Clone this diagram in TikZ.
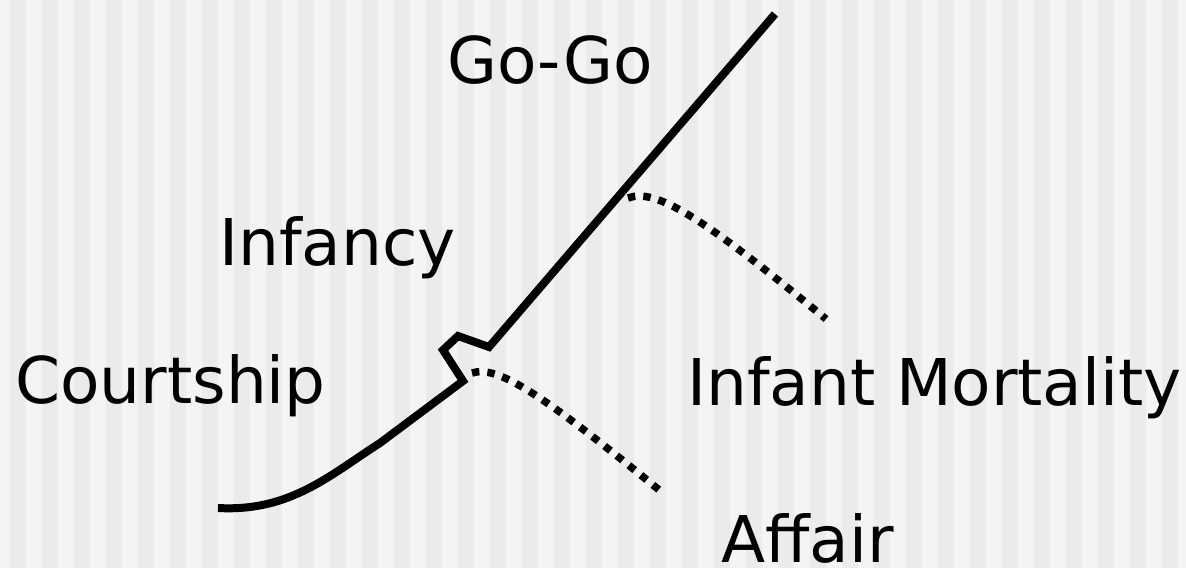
\documentclass[tikz,border=0pt]{standalone}
\usepackage{fontspec}
\setmainfont{DejaVu Sans}
\definecolor{stripelight}{HTML}{F4F4F4}
\definecolor{stripedark}{HTML}{EBEBEB}
\tikzset{
  lifeline/.style={line width=0.16cm,line join=miter},
  dotline/.style={line width=0.15cm,dash pattern=on 0.15cm off 0.16cm},
  stagelabel/.style={anchor=base west,inner sep=0pt,font=\fontsize{36.7}{44}\selectfont}
}
\begin{document}
\begin{tikzpicture}[x=0.02cm,y=-0.02cm]
% background
\fill[stripelight] (0,0) rectangle (1186,568);
\foreach \k in {0,...,36}
  \fill[stripedark] (10+32*\k,0) rectangle (26+32*\k,568);
\useasboundingbox (0,0) rectangle (1186,568);
% labels
\node[stagelabel] (gogo) at (447,83) {Go-Go};
\node[stagelabel] (infancy) at (219,265) {Infancy};
\node[stagelabel] (courtship) at (15,403) {Courtship};
\node[stagelabel] (mortality) at (687,405) {Infant Mortality};
\node[stagelabel] (affair) at (721,562) {Affair};
% curve points
\coordinate (start) at (218,508);
\coordinate (bend) at (380,443);
\coordinate (breaklow) at (463,381);
\coordinate (breakup) at (489,347);
\coordinate (top) at (775,14);
\draw[lifeline]
  (start)
  .. controls (290,512) and (330,475) ..
  (bend) -- (breaklow) -- (443,350) -- (458,336) -- (breakup) -- (top);
% failure paths
\coordinate (fail1) at (628,198);
\coordinate (mortend) at (826,319);
\draw[dotline]
  (fail1)
  .. controls (655,188) and (700,215) ..
  (mortend);
\coordinate (fail2) at (472,373);
\coordinate (affairend) at (664,494);
\draw[dotline]
  (fail2)
  .. controls (497,365) and (540,392) ..
  (affairend);
\end{tikzpicture}
\end{document}
